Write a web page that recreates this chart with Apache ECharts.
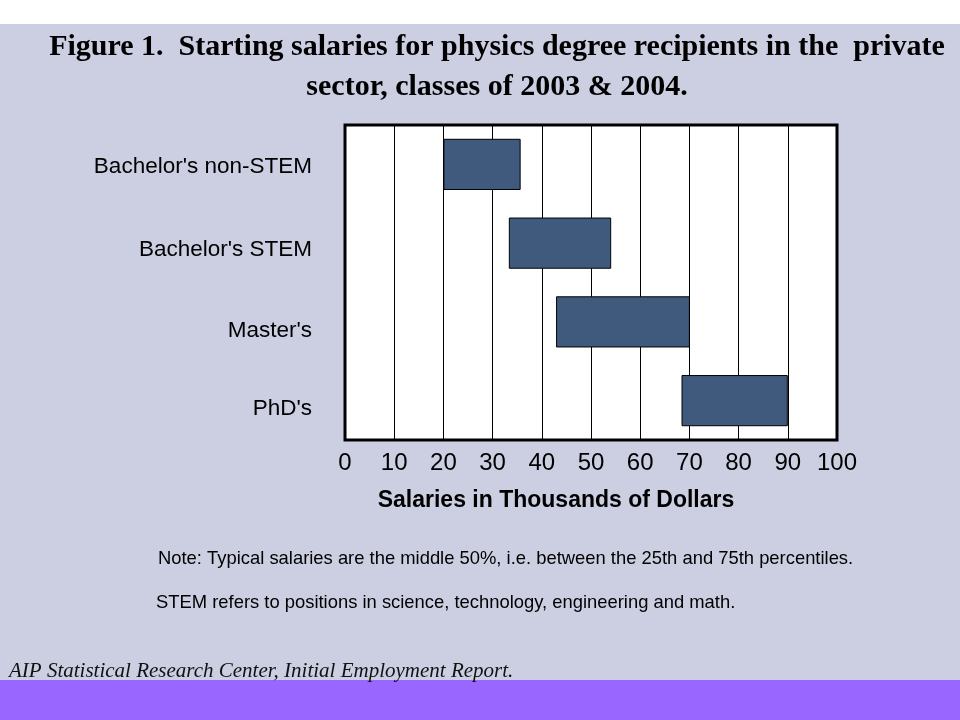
<!DOCTYPE html>
<html>
<head>
<meta charset="utf-8">
<script src="https://cdn.jsdelivr.net/npm/echarts@6/dist/echarts.min.js"></script>
<style>
  html, body { margin: 0; padding: 0; }
  #main { width: 960px; height: 720px; }
</style>
</head>
<body>
<div id="main"></div>
<script>
// degree groups, top to bottom
var degrees = ["Bachelor's non-STEM", "Bachelor's STEM", "Master's", "PhD's"];
// 25th and 75th percentile salaries (thousands of dollars)
var low25 = [20, 33.3, 42.9, 68.4];
var high75 = [35.7, 54.1, 70.1, 90];
var xTicks = [0, 10, 20, 30, 40, 50, 60, 70, 80, 90, 100];

var spans = high75.map(function (h, i) { return +(h - low25[i]).toFixed(1); });

var titleFont = {
    fontFamily: 'Liberation Serif',
    fontWeight: 'bold',
    fontSize: 30,
    color: '#000'
};
var noteFont = { fontFamily: 'Liberation Sans', fontWeight: 'normal', fontSize: 18.4, color: '#000' };

// the category labels in the original sit a little lower than their bars
var labelRich = {
    r0: { padding: [4, 0, 0, 0] },
    r1: { padding: [14, 0, 0, 0] },
    r2: { padding: [18, 0, 0, 0] },
    r3: { padding: [16, 0, 0, 0] }
};

var myChart = echarts.init(document.getElementById('main'));
var option = {
    backgroundColor: '#cccfe2',
    animation: false,
    title: [{
        text: 'Figure 1.  Starting salaries for physics degree recipients in the  private',
        left: 492,
        top: 27,
        textAlign: 'center',
        textStyle: titleFont
    }, {
        text: 'sector, classes of 2003 & 2004.',
        left: 492,
        top: 67,
        textAlign: 'center',
        textStyle: titleFont
    }, {
        text: 'Note: Typical salaries are the middle 50%, i.e. between the 25th and 75th percentiles.',
        left: 153,
        top: 545,
        textStyle: noteFont
    }, {
        text: 'STEM refers to positions in science, technology, engineering and math.',
        left: 151,
        top: 589,
        textStyle: noteFont
    }, {
        text: 'AIP Statistical Research Center, Initial Employment Report.',
        left: 4,
        top: 656,
        textStyle: { fontFamily: 'Liberation Serif', fontStyle: 'italic', fontWeight: 'normal', fontSize: 21, color: '#111' }
    }],
    graphic: [{
        type: 'rect', z: -10, silent: true,
        shape: { x: 0, y: 0, width: 960, height: 24 },
        style: { fill: '#ffffff' }
    }, {
        type: 'rect', z: -10, silent: true,
        shape: { x: 0, y: 680, width: 960, height: 40 },
        style: { fill: '#9966ff' }
    }],
    grid: {
        left: 345,
        right: 123,
        top: 125,
        bottom: 280,
        show: true,
        backgroundColor: '#ffffff',
        borderColor: '#000',
        borderWidth: 3
    },
    xAxis: {
        type: 'value',
        min: 0,
        max: 100,
        interval: 10,
        name: 'Salaries in Thousands of Dollars',
        nameLocation: 'middle',
        nameGap: 49,
        nameTextStyle: {
            fontFamily: 'Liberation Sans',
            fontWeight: 'bold',
            fontSize: 23,
            color: '#000',
            padding: [0, 70, 0, 0]
        },
        axisLine: { show: false },
        axisTick: { show: false },
        axisLabel: {
            margin: 11,
            fontFamily: 'Liberation Sans',
            fontSize: 24,
            color: '#000',
            formatter: function (v) { return xTicks.indexOf(v) >= 0 ? String(v) : ''; }
        },
        splitLine: { show: true, lineStyle: { color: '#000', width: 1 } }
    },
    yAxis: {
        type: 'category',
        inverse: true,
        data: degrees,
        axisLine: { show: false },
        axisTick: { show: false },
        axisLabel: {
            margin: 33,
            fontFamily: 'Liberation Sans',
            fontSize: 22.5,
            color: '#000',
            formatter: function (v, i) { return '{r' + i + '|' + v + '}'; },
            rich: labelRich
        },
        splitLine: { show: false }
    },
    series: [{
        name: 'base',
        type: 'bar',
        stack: 'range',
        barWidth: '65%',
        silent: true,
        itemStyle: { color: 'transparent' },
        data: low25
    }, {
        name: 'middle 50%',
        type: 'bar',
        stack: 'range',
        barWidth: '65%',
        itemStyle: { color: '#3f5a7c', borderColor: '#000', borderWidth: 1 },
        data: spans
    }]
};
myChart.setOption(option);
</script>
</body>
</html>
